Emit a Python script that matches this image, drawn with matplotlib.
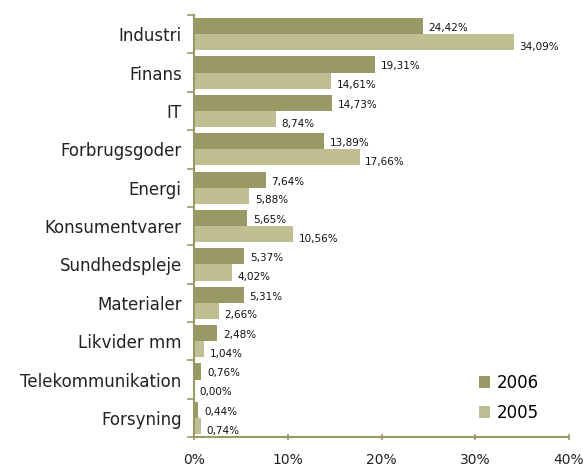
import matplotlib
matplotlib.use("Agg")
import matplotlib.pyplot as plt
import numpy as np

categories = ["Industri", "Finans", "IT", "Forbrugsgoder", "Energi", "Konsumentvarer",
              "Sundhedspleje", "Materialer", "Likvider mm", "Telekommunikation", "Forsyning"]
values_2006 = [24.42, 19.31, 14.73, 13.89, 7.64, 5.65, 5.37, 5.31, 2.48, 0.76, 0.44]
values_2005 = [34.09, 14.61, 8.74, 17.66, 5.88, 10.56, 4.02, 2.66, 1.04, 0.00, 0.74]
xticks = [0, 10, 20, 30, 40]

c2006 = "#999966"
c2005 = "#c0bf94"
axis_col = "#999966"

fig = plt.figure(figsize=(5.83, 4.70), dpi=100)
ax = fig.add_axes([0.333, 0.070, 0.643, 0.898])

n = len(categories)
y = np.arange(n)
h = 0.42
ax.barh(y - h / 2, values_2006, height=h, color=c2006, label="2006")
ax.barh(y + h / 2, values_2005, height=h, color=c2005, label="2005")

for i in range(n):
    ax.text(values_2006[i] + 0.6, y[i] - h / 2 + 0.05, f"{values_2006[i]:.2f}%".replace(".", ","),
            va="center", ha="left", fontsize=7.5, color="#111111")
    ax.text(values_2005[i] + 0.6, y[i] + h / 2 + 0.12, f"{values_2005[i]:.2f}%".replace(".", ","),
            va="center", ha="left", fontsize=7.5, color="#111111")

ax.set_ylim(n - 0.5, -0.5)
ax.set_xlim(0, 40)
ax.set_yticks(y)
ax.set_yticklabels(categories, fontsize=12, color="#222222")
ax.set_yticks(np.arange(n + 1) - 0.5, minor=True)
ax.tick_params(axis="y", which="major", length=0, pad=9)
ax.tick_params(axis="y", which="minor", length=5, color=axis_col, width=1.2)
ax.set_xticks(xticks)
ax.set_xticklabels([f"{t}%" for t in xticks], fontsize=10, color="#222222")
ax.tick_params(axis="x", length=5, color=axis_col, width=1.2, direction="inout", pad=9)

for s in ["top", "right"]:
    ax.spines[s].set_visible(False)
for s in ["left", "bottom"]:
    ax.spines[s].set_color(axis_col)
    ax.spines[s].set_linewidth(1.5)

leg = ax.legend(loc="lower right", bbox_to_anchor=(0.96, 0.0), frameon=False, fontsize=12,
                handlelength=0.7, handleheight=0.7, labelspacing=0.75, handletextpad=0.4)

fig.savefig("out.png", dpi=100)
